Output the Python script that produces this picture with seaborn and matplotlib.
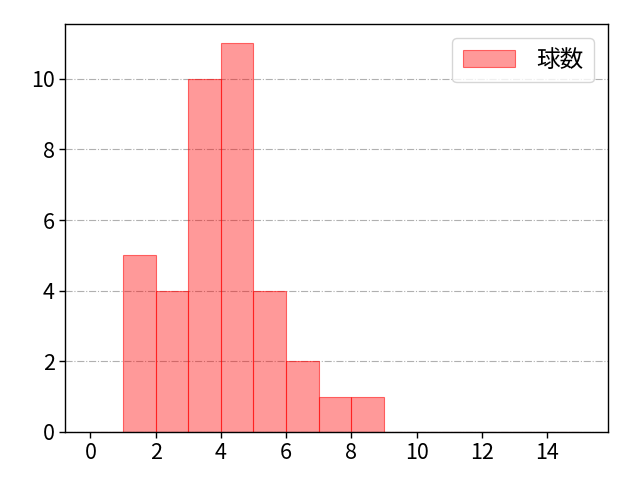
import matplotlib
matplotlib.use("Agg")
import matplotlib.pyplot as plt
import seaborn as sns
import numpy as np

sns.set_style("white")
plt.rcParams['font.family'] = ['Noto Sans CJK JP', 'DejaVu Sans']
plt.rcParams['text.color'] = 'black'
plt.rcParams['xtick.color'] = 'black'
plt.rcParams['ytick.color'] = 'black'
plt.rcParams['axes.labelcolor'] = 'black'

bin_lefts = [1, 2, 3, 4, 5, 6, 7, 8]
counts = [5, 4, 10, 11, 4, 2, 1, 1]
bin_edges = list(range(0, 16))

fig = plt.figure(figsize=(6.4, 4.8), dpi=100)
ax = fig.add_axes([0.102, 0.1, 0.848, 0.85])
sns.histplot(x=bin_lefts, weights=counts, bins=bin_edges, color=(1, 0, 0, 0.4),
             edgecolor='red', linewidth=0.8, alpha=None, ax=ax, label='球数')
for p in ax.patches:
    p.set_facecolor((1, 0, 0, 0.4))
    p.set_edgecolor((1, 0, 0, 0.55))
ax.set_xlim(-0.77, 15.87)
ax.set_ylim(0, 11.55)
ax.set_xticks(range(0, 16, 2))
ax.set_yticks(range(0, 12, 2))
ax.set_xlabel('')
ax.set_ylabel('')
ax.yaxis.grid(True, linestyle='-.', color='#b0b0b0', linewidth=0.8)
ax.set_axisbelow(True)
for s in ax.spines.values():
    s.set_color('black')
    s.set_linewidth(1.0)
ax.tick_params(axis='both', labelsize=15.5, length=4, width=1, direction='out',
               bottom=True, left=True, colors='black')
ax.legend(loc='upper right', fontsize=17, handlelength=2.2, handletextpad=0.9,
          borderpad=0.45, handleheight=0.7, borderaxespad=0.6)
fig.savefig('out.png', dpi=100)
